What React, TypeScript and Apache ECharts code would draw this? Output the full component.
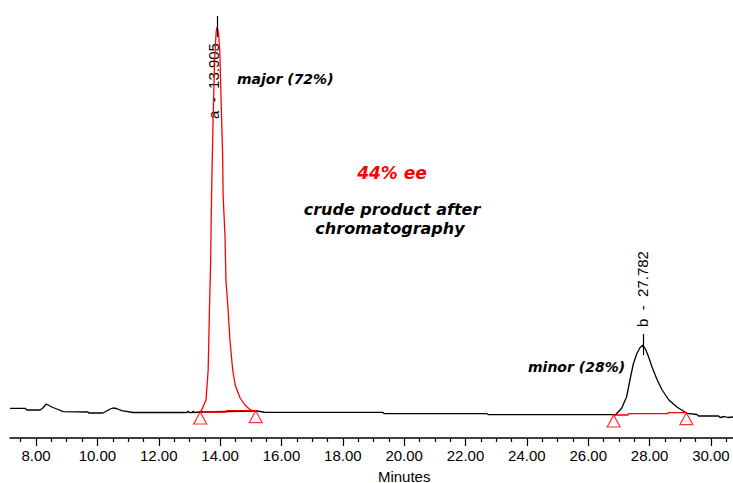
import React, { useEffect, useRef } from "react";
import * as echarts from "echarts";

// Detector trace (black), time in minutes, signal in mV (baseline ≈ 0)
const traceTimes = [
  7.15, 7.64, 7.7, 8.13, 8.22, 8.33, 8.45, 8.55, 8.72, 8.88, 9.69, 9.72, 10.18, 10.3, 10.42, 10.51,
  10.62, 10.79, 11.16, 12.92, 12.95, 12.98, 13.1, 13.12, 13.15, 13.38, 14.2, 15.2, 15.4, 15.45,
  19.3, 19.35, 22.7, 22.75, 26.85, 26.9, 27.09, 27.25, 27.36, 27.47, 27.58, 27.68, 27.782, 27.88,
  27.97, 28.08, 28.25, 28.41, 28.63, 28.9, 29.22, 29.54, 29.6, 30.0, 30.25, 30.3, 30.45, 30.55, 30.72,
];
const traceSignal = [
  3.7, 3.7, 2, 2, 4, 8, 6, 4.5, 2.5, 0.3, 0, -1, -1, 1, 3, 4,
  3.5, 1.3, -0.5, -0.5, 1, -0.5, -0.5, 1, -0.5, 0, 0.5, 1, 0, -0.3,
  -0.3, -1.7, -1.7, -2.7, -2.7, -2.5, 3.7, 15, 32, 48, 58, 64, 67, 62,
  55, 45, 32, 22, 12, 4.7, -1.3, -2.5, -4, -4, -4, -5.5, -4.5, -5.5, -5,
];

// Integrated major peak (red)
const majorTimes = [
  13.35, 13.4, 13.54, 13.61, 13.65, 13.69, 13.72, 13.77, 13.82, 13.87, 13.905, 13.95, 13.99, 14.05,
  14.08, 14.1, 14.16, 14.19, 14.26, 14.32, 14.41, 14.49, 14.65, 14.81, 14.95, 15.07, 15.16,
];
const majorSignal = [
  0, 2, 12, 42, 99, 149, 215, 292, 352, 380, 385, 378, 360, 292,
  259, 215, 175, 132, 102, 72, 42, 27, 14, 7, 3, 1.3, 1.3,
];

// Integration baselines (red)
const baseATimes = [13.35, 14.2, 14.21, 15.16];
const baseASignal = [0, 0, 1.3, 1.3];
const baseBTimes = [26.83, 27.3, 27.32, 28.6, 28.62, 29.2];
const baseBSignal = [-3, -3, -1.7, -1.7, -0.7, -0.7];

// Peak start / end markers
const markerTimes = [13.35, 15.16, 26.83, 29.2];
const markerSignal = [0, 1.3, -3, -0.7];

// Peak identification
const peakNames = ["a", "b"];
const peakTimes = [13.905, 27.782];
const peakHeights = [385, 67];
const peakShares = ["major (72%)", "minor (28%)"];

// Axis ticks (minutes)
const tickValues = [8, 10, 12, 14, 16, 18, 20, 22, 24, 26, 28, 30];

const eeText = "44% ee";
const noteLines = ["crude product after", "chromatography"];
const axisTitle = "Minutes";

const zip = (xs: number[], ys: number[]) => xs.map((x, i) => [x, ys[i]]);

export default function App() {
  const ref = useRef<HTMLDivElement>(null);

  useEffect(() => {
    if (!ref.current) return;
    const chart = echarts.init(ref.current, undefined, { renderer: "svg" });
    const red = "#ff0000";

    chart.setOption({
      animation: false,
      backgroundColor: "#ffffff",
      grid: { left: 10, right: 0, top: 0, bottom: 45 },
      xAxis: {
        type: "value",
        min: 7.15,
        max: 30.72,
        minInterval: 2,
        maxInterval: 2,
        splitNumber: 12,
        splitLine: { show: false },
        axisLine: { show: true, onZero: false, lineStyle: { color: "#000", width: 1.5 } },
        axisTick: {
          show: true,
          length: 8,
          customValues: tickValues,
          lineStyle: { color: "#000", width: 1.2 },
        },
        minorTick: { show: true, splitNumber: 4, length: 4, lineStyle: { color: "#000", width: 1.2 } },
        axisLabel: {
          color: "#000",
          fontFamily: "'Liberation Sans', Arial, sans-serif",
          fontSize: 15,
          margin: 10,
          customValues: tickValues,
          formatter: (v: number) => v.toFixed(2),
        },
      },
      yAxis: { type: "value", min: -26, max: 412, show: false },
      series: [
        {
          name: "trace",
          type: "line",
          data: zip(traceTimes, traceSignal),
          showSymbol: false,
          symbol: "none",
          lineStyle: { color: "#000", width: 1.3 },
          z: 2,
          silent: true,
          markLine: {
            silent: true,
            symbol: "none",
            label: { show: false },
            lineStyle: { color: "#000", width: 1.2, type: "solid" },
            data: peakTimes.map((t, i) => [
              { coord: [t, peakHeights[i] + 11] },
              { coord: [t, peakHeights[i] - 10] },
            ]),
          },
        },
        {
          name: "major",
          type: "line",
          data: zip(majorTimes, majorSignal),
          showSymbol: false,
          symbol: "none",
          lineStyle: { color: red, width: 1.3 },
          z: 3,
          silent: true,
        },
        {
          name: "baseA",
          type: "line",
          data: zip(baseATimes, baseASignal),
          showSymbol: false,
          symbol: "none",
          lineStyle: { color: red, width: 1.3 },
          z: 4,
          silent: true,
        },
        {
          name: "baseB",
          type: "line",
          data: zip(baseBTimes, baseBSignal),
          showSymbol: false,
          symbol: "none",
          lineStyle: { color: red, width: 1.3 },
          z: 4,
          silent: true,
        },
        {
          name: "markers",
          type: "scatter",
          data: zip(markerTimes, markerSignal),
          symbol: "triangle",
          symbolSize: [13, 12],
          symbolOffset: [0, 6],
          itemStyle: { color: "rgba(255,255,255,0)", borderColor: red, borderWidth: 1.2 },
          z: 5,
          silent: true,
        },
      ],
    });

    const px = (t: number, v: number) =>
      chart.convertToPixel({ xAxisIndex: 0, yAxisIndex: 0 }, [t, v]) as number[];
    const apexA = px(peakTimes[0], peakHeights[0]);
    const apexB = px(peakTimes[1], peakHeights[1]);
    const titleX = px(20, 0)[0];

    const peakLabel = (i: number) => `${peakNames[i]}  -  ${peakTimes[i].toFixed(3)}`;
    const labelFont = "15px 'Liberation Sans', Arial, sans-serif";
    const noteFont = (s: number) => `bold italic ${s}px 'DejaVu Sans', sans-serif`;

    chart.setOption({
      graphic: [
        {
          type: "text",
          x: apexA[0] - 4,
          y: apexA[1] + 54,
          rotation: Math.PI / 2,
          style: { text: peakLabel(0), font: labelFont, fill: "#000", align: "center", verticalAlign: "middle" },
          z: 1,
        },
        {
          type: "text",
          x: apexB[0],
          y: apexB[1] - 56,
          rotation: Math.PI / 2,
          style: { text: peakLabel(1), font: labelFont, fill: "#000", align: "center", verticalAlign: "middle" },
        },
        {
          type: "text",
          x: 237,
          y: 78.5,
          style: { text: peakShares[0], font: noteFont(14), fill: "#000", align: "left", verticalAlign: "middle" },
        },
        {
          type: "text",
          x: 528,
          y: 366.5,
          style: { text: peakShares[1], font: noteFont(14), fill: "#000", align: "left", verticalAlign: "middle" },
        },
        {
          type: "text",
          x: 392,
          y: 172.5,
          style: { text: eeText, font: noteFont(17), fill: red, align: "center", verticalAlign: "middle" },
        },
        {
          type: "text",
          x: 392,
          y: 209.5,
          style: { text: noteLines[0], font: noteFont(16), fill: "#000", align: "center", verticalAlign: "middle" },
        },
        {
          type: "text",
          x: 390,
          y: 228,
          style: { text: noteLines[1], font: noteFont(16), fill: "#000", align: "center", verticalAlign: "middle" },
        },
        {
          type: "text",
          x: titleX,
          y: 476,
          style: { text: axisTitle, font: "15px 'Liberation Sans', Arial, sans-serif", fill: "#000", align: "center", verticalAlign: "middle" },
        },
      ],
    });

    return () => chart.dispose();
  }, []);

  return (
    <div
      ref={ref}
      style={{ position: "fixed", left: 0, top: 0, width: 733, height: 483, background: "#fff" }}
    />
  );
}
